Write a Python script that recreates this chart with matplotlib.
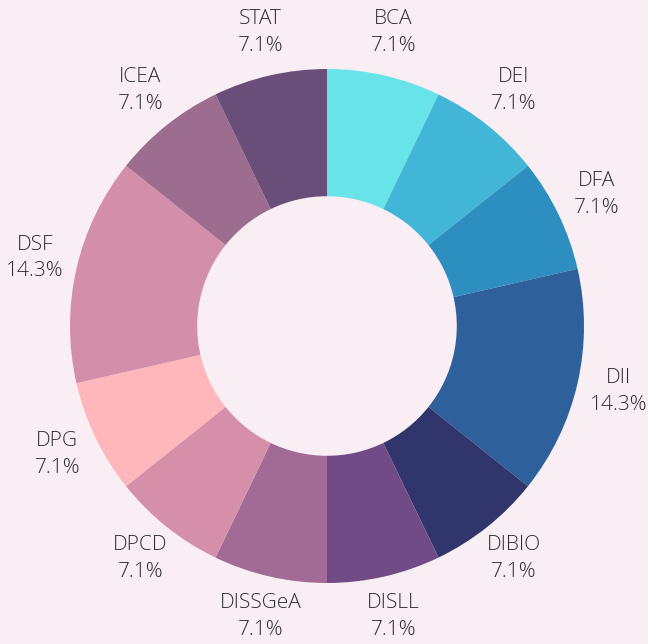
import matplotlib
matplotlib.use("Agg")
import matplotlib.pyplot as plt
import numpy as np

labels = ["BCA", "DEI", "DFA", "DII", "DIBIO", "DISLL", "DISSGeA", "DPCD", "DPG", "DSF", "ICEA", "STAT"]
values = [1, 1, 1, 2, 1, 1, 1, 1, 1, 2, 1, 1]
colors = ["#68e4e9", "#42b6d6", "#2d8fbf", "#2e609c", "#30356b", "#704b85", "#a16b95",
          "#d68fa9", "#ffb7bc", "#d38fa9", "#9c6d8f", "#684e78"]

bg = "#f9eef3"
fig = plt.figure(figsize=(6.48, 6.44), dpi=100, facecolor=bg)
ax = fig.add_axes([0, 0, 1, 1])
ax.set_facecolor(bg)

wedges, _ = ax.pie(values, colors=colors, startangle=90, counterclock=False,
                   radius=1.0, wedgeprops=dict(width=0.495, linewidth=0))

total = sum(values)
for w, lab, v in zip(wedges, labels, values):
    ang = np.deg2rad((w.theta1 + w.theta2) / 2)
    r = 1.165
    x, y = r * np.cos(ang), r * np.sin(ang)
    ax.text(x, y + 0.005, f"{lab}\n{v / total * 100:.1f}%", ha="center", va="center",
            fontsize=15, color="#2e2e2e", family=["Open Sans", "DejaVu Sans"],
            fontweight="light", linespacing=1.45)

ax.set_xlim(-327 / 257, 321 / 257)
ax.set_ylim(-318 / 257, 326 / 257)
ax.set_aspect("equal")
ax.axis("off")
fig.savefig("out.png", dpi=100, facecolor=bg)
